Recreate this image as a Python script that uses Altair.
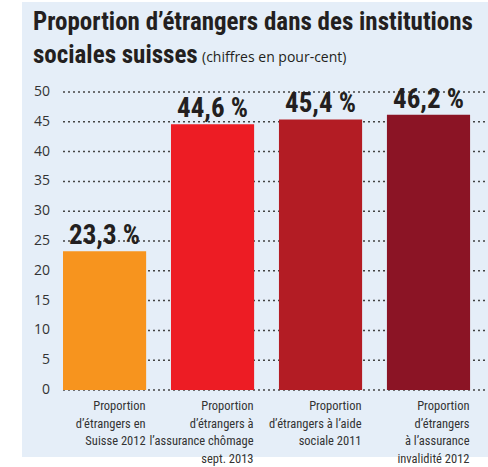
import altair as alt
import pandas as pd

categories = [
    "Proportion|d’étrangers en|Suisse 2012",
    "Proportion|d’étrangers à|l’assurance chômage|sept. 2013",
    "Proportion|d’étrangers à l’aide|sociale 2011",
    "Proportion|d’étrangers|à l’assurance|invalidité 2012",
]
values = [23.3, 44.6, 45.4, 46.2]
value_labels = ["23,3 %", "44,6 %", "45,4 %", "46,2 %"]
bar_colors = ["#F7941E", "#ED1C24", "#B31C24", "#8B1425"]
y_ticks = [0, 5, 10, 15, 20, 25, 30, 35, 40, 45, 50]

title_line1 = "Proportion d’étrangers dans des institutions"
title_line2 = "sociales suisses"
subtitle = "(chiffres en pour-cent)"

BG = "#E5EEF8"
DARK = "#231F20"
COND = "Roboto Condensed"
REG = "Open Sans"

W, H = 425, 298

df = pd.DataFrame({"cat": categories, "val": values, "lab": value_labels})
grid_df = pd.DataFrame({"v": y_ticks, "t": [str(v) for v in y_ticks]})
one = pd.DataFrame({"k": [0]})

yscale = alt.Scale(domain=[0, 50], nice=False)
xscale = alt.Scale(paddingInner=0.23, paddingOuter=0.083, align=0)

bg = alt.Chart(one).mark_rect(color=BG).encode(
    x=alt.value(-41), x2=alt.value(W), y=alt.value(-90), y2=alt.value(H + 67)
)

grid = alt.Chart(grid_df).mark_rule(
    color="#444444", strokeDash=[2, 3], strokeWidth=1.5
).encode(
    y=alt.Y("v:Q", scale=yscale, axis=None),
    x=alt.value(0), x2=alt.value(W),
)

ylabels = alt.Chart(grid_df).mark_text(
    font=REG, fontSize=14, color="#333333", align="right", baseline="middle",
).encode(
    y=alt.Y("v:Q", scale=yscale, axis=None),
    x=alt.value(-13),
    text="t:N",
)

bars = alt.Chart(df).mark_bar().encode(
    x=alt.X("cat:N", sort=None, scale=xscale, axis=None),
    y=alt.Y("val:Q", scale=yscale, axis=None),
    color=alt.Color("cat:N", scale=alt.Scale(domain=categories, range=bar_colors), legend=None),
)

cat_labels = alt.Chart(df).mark_text(
    font=COND, fontSize=12.5, color="#333333", align="right", baseline="top",
    lineBreak="|", lineHeight=17.5, dx=41,
).encode(
    x=alt.X("cat:N", sort=None, scale=xscale, axis=None),
    y=alt.value(H + 10),
    text="cat:N",
)

texts = alt.Chart(df).mark_text(
    font=COND, fontWeight="bold", fontSize=27, color=DARK,
    baseline="alphabetic", dy=-7,
).encode(
    x=alt.X("cat:N", sort=None, scale=xscale, axis=None),
    y=alt.Y("val:Q", scale=yscale, axis=None),
    text="lab:N",
)

t1 = alt.Chart(one).mark_text(
    text=title_line1, font=COND, fontWeight="bold", fontSize=25, color=DARK,
    align="left", baseline="alphabetic",
).encode(x=alt.value(-30), y=alt.value(-62))

t2 = alt.Chart(one).mark_text(
    text=title_line2, font=COND, fontWeight="bold", fontSize=25, color=DARK,
    align="left", baseline="alphabetic",
).encode(x=alt.value(-30), y=alt.value(-29))

t3 = alt.Chart(one).mark_text(
    text=subtitle, font=REG, fontSize=14, color=DARK,
    align="left", baseline="alphabetic",
).encode(x=alt.value(139), y=alt.value(-30))

chart = alt.layer(bg, grid, ylabels, bars, cat_labels, texts, t1, t2, t3).properties(
    width=W, height=H,
    autosize=alt.AutoSizeParams(type="none"),
    padding={"left": 63, "top": 92, "right": 0, "bottom": 77},
    background="white",
).configure_view(stroke=None)

chart.save("out.html", embed_options={"renderer": "svg", "actions": False})
